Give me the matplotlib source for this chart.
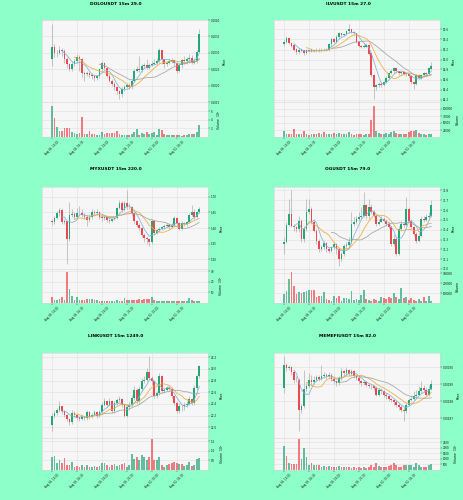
import pandas as pd
import matplotlib
matplotlib.use("Agg")
import matplotlib.pyplot as plt

# -------------------------------
# colours / style
# -------------------------------
BG = "#8dffc8"
AX_BG = "#f6f6f6"
UP = "#22a877"
DOWN = "#ef4650"
WICK = "#a8a8a8"
MA_WINDOWS = [5, 10, 20]
MA_COLORS = ["#7fb2d9", "#f2a93b", "#a3a3a3"]

# 15m candles, 60 per chart
times = pd.date_range("2025-08-09 14:00", periods=60, freq="15min")
xtick_idx = [0, 10, 20, 30, 40, 50]

# -------------------------------
# DOLOUSDT
# -------------------------------
dolo_open0 = 0.10280
dolo_close = [0.10318, 0.10298, 0.10300, 0.10310, 0.10305, 0.10282, 0.10265, 0.10250, 0.10265, 0.10275,
              0.10288, 0.10280, 0.10238, 0.10235, 0.10238, 0.10232, 0.10228, 0.10222, 0.10228, 0.10250,
              0.10268, 0.10253, 0.10230, 0.10215, 0.10205, 0.10195, 0.10183, 0.10173, 0.10190, 0.10195,
              0.10202, 0.10195, 0.10215, 0.10245, 0.10250, 0.10248, 0.10260, 0.10262, 0.10255, 0.10263,
              0.10267, 0.10270, 0.10275, 0.10308, 0.10280, 0.10265, 0.10270, 0.10275, 0.10277, 0.10270,
              0.10245, 0.10262, 0.10278, 0.10275, 0.10280, 0.10285, 0.10270, 0.10275, 0.10303, 0.10357]
dolo_high = [0.10388, 0.10328, 0.10310, 0.10320, 0.10315, 0.10312, 0.10288, 0.10270, 0.10275, 0.10282,
             0.10295, 0.10292, 0.10285, 0.10245, 0.10245, 0.10242, 0.10238, 0.10232, 0.10232, 0.10255,
             0.10275, 0.10272, 0.10258, 0.10235, 0.10220, 0.10210, 0.10200, 0.10188, 0.10195, 0.10202,
             0.10208, 0.10208, 0.10220, 0.10252, 0.10260, 0.10290, 0.10265, 0.10270, 0.10280, 0.10270,
             0.10275, 0.10280, 0.10285, 0.10315, 0.10310, 0.10285, 0.10275, 0.10282, 0.10285, 0.10282,
             0.10275, 0.10268, 0.10282, 0.10290, 0.10288, 0.10295, 0.10292, 0.10285, 0.10310, 0.10372]
dolo_low = [0.10260, 0.10288, 0.10288, 0.10295, 0.10290, 0.10270, 0.10255, 0.10245, 0.10245, 0.10260,
            0.10270, 0.10245, 0.10225, 0.10215, 0.10230, 0.10225, 0.10220, 0.10215, 0.10218, 0.10222,
            0.10245, 0.10248, 0.10225, 0.10210, 0.10198, 0.10188, 0.10175, 0.10160, 0.10165, 0.10185,
            0.10192, 0.10190, 0.10190, 0.10210, 0.10240, 0.10240, 0.10242, 0.10255, 0.10250, 0.10250,
            0.10260, 0.10262, 0.10265, 0.10270, 0.10265, 0.10255, 0.10260, 0.10265, 0.10268, 0.10260,
            0.10238, 0.10240, 0.10255, 0.10265, 0.10265, 0.10270, 0.10265, 0.10265, 0.10270, 0.10300]
dolo_vol = [708000, 438000, 231000, 131000, 131000, 215000, 215000, 215000, 115000, 92000,
            62000, 92000, 462000, 77000, 62000, 138000, 77000, 62000, 38000, 38000,
            115000, 77000, 92000, 92000, 92000, 92000, 138000, 77000, 54000, 54000,
            38000, 38000, 77000, 115000, 192000, 38000, 92000, 62000, 108000, 62000,
            92000, 115000, 38000, 192000, 154000, 77000, 54000, 54000, 54000, 38000,
            54000, 38000, 23000, 38000, 38000, 62000, 77000, 62000, 115000, 269000]
dolo_yticks = [0.1015, 0.1020, 0.1025, 0.1030, 0.1035, 0.1040]
dolo_vticks = [200000, 400000, 600000]
dolo_vlabels = ["2", "4", "6"]

# -------------------------------
# ILVUSDT
# -------------------------------
ilv_open0 = 15.30
ilv_close = [15.35, 15.42, 15.32, 15.28, 15.20, 15.14, 15.19, 15.18, 15.13, 15.18,
             15.16, 15.19, 15.17, 15.20, 15.17, 15.20, 15.18, 15.20, 15.30, 15.40,
             15.35, 15.45, 15.52, 15.48, 15.50, 15.56, 15.60, 15.55, 15.52, 15.35,
             15.27, 15.25, 15.26, 15.29, 15.12, 14.69, 14.45, 14.49, 14.52, 14.50,
             14.55, 14.64, 14.73, 14.77, 14.82, 14.77, 14.73, 14.75, 14.72, 14.71,
             14.67, 14.55, 14.51, 14.69, 14.64, 14.69, 14.73, 14.71, 14.82, 14.87]
ilv_high = [15.38, 15.46, 15.43, 15.34, 15.30, 15.22, 15.22, 15.22, 15.20, 15.21,
            15.20, 15.22, 15.21, 15.22, 15.22, 15.22, 15.22, 15.22, 15.32, 15.44,
            15.42, 15.48, 15.55, 15.54, 15.53, 15.58, 15.71, 15.62, 15.57, 15.53,
            15.37, 15.29, 15.30, 15.32, 15.31, 15.15, 14.72, 14.52, 14.56, 14.55,
            14.57, 14.67, 14.76, 14.80, 14.85, 14.84, 14.78, 14.78, 14.77, 14.74,
            14.73, 14.68, 14.56, 14.72, 14.71, 14.71, 14.75, 14.75, 14.84, 14.95]
ilv_low = [15.27, 15.33, 15.30, 15.25, 15.17, 15.11, 15.12, 15.15, 15.10, 15.11,
           15.14, 15.14, 15.15, 15.15, 15.15, 15.15, 15.16, 15.16, 15.18, 15.28,
           15.33, 15.33, 15.43, 15.45, 15.46, 15.48, 15.54, 15.52, 15.49, 15.33,
           15.25, 15.22, 15.22, 15.24, 15.10, 14.65, 14.22, 14.40, 14.46, 14.46,
           14.47, 14.53, 14.62, 14.71, 14.74, 14.74, 14.70, 14.70, 14.69, 14.68,
           14.64, 14.52, 14.42, 14.49, 14.61, 14.62, 14.66, 14.68, 14.69, 14.79]
ilv_vol = [21400, 11900, 11900, 11900, 28600, 11900, 11900, 11900, 21400, 9500,
           6000, 9500, 11900, 11900, 14300, 9500, 17900, 9500, 11900, 11900,
           15500, 11900, 15500, 11900, 9500, 11900, 17900, 9500, 6000, 11900,
           9500, 9500, 6000, 9500, 11900, 59500, 109500, 21400, 14300, 11900,
           9500, 14300, 11900, 17900, 21400, 14300, 11900, 11900, 11900, 9500,
           17900, 21400, 21400, 26200, 14300, 11900, 9500, 6000, 11900, 11900]
ilv_yticks = [14.2, 14.4, 14.6, 14.8, 15.0, 15.2, 15.4, 15.6]
ilv_vticks = [25000, 50000, 75000, 100000]
ilv_vlabels = ["25000", "50000", "75000", "100000"]

# -------------------------------
# MYXUSDT
# -------------------------------
myx_open0 = 1.621
myx_close = [1.618, 1.632, 1.647, 1.658, 1.619, 1.621, 1.563, 1.642, 1.644, 1.634,
             1.647, 1.647, 1.642, 1.637, 1.626, 1.637, 1.653, 1.647, 1.653, 1.637,
             1.632, 1.634, 1.626, 1.623, 1.629, 1.632, 1.663, 1.682, 1.658, 1.679,
             1.668, 1.668, 1.647, 1.621, 1.611, 1.600, 1.579, 1.568, 1.563, 1.556,
             1.621, 1.584, 1.592, 1.597, 1.602, 1.607, 1.611, 1.603, 1.611, 1.632,
             1.616, 1.598, 1.616, 1.613, 1.619, 1.642, 1.653, 1.637, 1.651, 1.661]
myx_high = [1.628, 1.640, 1.655, 1.665, 1.662, 1.630, 1.626, 1.684, 1.660, 1.652,
            1.665, 1.670, 1.660, 1.648, 1.642, 1.645, 1.660, 1.658, 1.660, 1.656,
            1.642, 1.640, 1.638, 1.630, 1.633, 1.637, 1.668, 1.690, 1.686, 1.688,
            1.721, 1.680, 1.672, 1.650, 1.626, 1.615, 1.604, 1.585, 1.575, 1.568,
            1.628, 1.625, 1.597, 1.602, 1.606, 1.612, 1.616, 1.615, 1.615, 1.640,
            1.635, 1.620, 1.622, 1.620, 1.624, 1.648, 1.675, 1.660, 1.656, 1.668]
myx_low = [1.610, 1.612, 1.628, 1.640, 1.612, 1.614, 1.484, 1.558, 1.636, 1.628,
           1.630, 1.640, 1.636, 1.630, 1.605, 1.620, 1.630, 1.640, 1.642, 1.630,
           1.622, 1.626, 1.618, 1.616, 1.620, 1.625, 1.628, 1.660, 1.652, 1.655,
           1.660, 1.660, 1.640, 1.612, 1.602, 1.590, 1.570, 1.555, 1.550, 1.542,
           1.550, 1.578, 1.580, 1.588, 1.592, 1.598, 1.602, 1.598, 1.600, 1.605,
           1.610, 1.592, 1.594, 1.606, 1.608, 1.615, 1.638, 1.630, 1.632, 1.648]
myx_vol = [610000, 320000, 320000, 420000, 550000, 320000, 2900000, 1290000, 650000, 320000,
           550000, 320000, 290000, 320000, 350000, 420000, 350000, 320000, 260000, 230000,
           160000, 160000, 160000, 230000, 160000, 230000, 320000, 160000, 160000, 480000,
           320000, 320000, 320000, 320000, 320000, 350000, 320000, 390000, 420000, 350000,
           520000, 320000, 230000, 230000, 160000, 160000, 160000, 160000, 160000, 160000,
           160000, 190000, 190000, 160000, 230000, 480000, 320000, 230000, 160000, 190000]
myx_yticks = [1.50, 1.55, 1.60, 1.65, 1.70]
myx_vticks = [1000000, 2000000, 3000000]
myx_vlabels = ["10", "20", "30"]

# -------------------------------
# OGUSDT
# -------------------------------
og_open0 = 31.254
og_close = [31.278, 31.448, 31.561, 31.442, 31.425, 31.408, 31.493, 31.305, 31.408, 31.578,
            31.612, 31.483, 31.390, 31.288, 31.203, 31.220, 31.264, 31.203, 31.186, 31.220,
            31.254, 31.203, 31.100, 31.152, 31.237, 31.244, 31.271, 31.459, 31.476, 31.510,
            31.527, 31.544, 31.646, 31.544, 31.629, 31.578, 31.544, 31.459, 31.483, 31.510,
            31.493, 31.459, 31.425, 31.254, 31.305, 31.152, 31.408, 31.459, 31.448, 31.612,
            31.493, 31.425, 31.356, 31.288, 31.339, 31.510, 31.503, 31.527, 31.544, 31.646]
og_high = [31.322, 31.476, 31.715, 31.800, 31.459, 31.442, 31.544, 31.510, 31.442, 31.715,
           31.715, 31.629, 31.510, 31.408, 31.305, 31.244, 31.288, 31.278, 31.220, 31.237,
           31.271, 31.264, 31.220, 31.169, 31.254, 31.271, 31.322, 31.578, 31.527, 31.544,
           31.578, 31.629, 31.783, 31.663, 31.715, 31.663, 31.595, 31.561, 31.510, 31.544,
           31.527, 31.510, 31.476, 31.442, 31.356, 31.322, 31.442, 31.493, 31.476, 31.732,
           31.629, 31.510, 31.442, 31.373, 31.373, 31.544, 31.544, 31.561, 31.578, 31.698]
og_low = [31.152, 31.264, 31.435, 31.425, 31.390, 31.373, 31.373, 31.278, 31.271, 31.390,
          31.561, 31.459, 31.373, 31.254, 31.175, 31.186, 31.203, 31.175, 31.162, 31.175,
          31.203, 31.152, 31.032, 31.083, 31.135, 31.203, 31.220, 31.254, 31.442, 31.459,
          31.493, 31.510, 31.527, 31.510, 31.510, 31.561, 31.527, 31.442, 31.448, 31.476,
          31.476, 31.442, 31.408, 31.237, 31.237, 31.135, 31.141, 31.390, 31.425, 31.442,
          31.476, 31.408, 31.339, 31.264, 31.278, 31.322, 31.483, 31.493, 31.510, 31.527]
og_vol = [93000, 121000, 241000, 310000, 172000, 93000, 110000, 103000, 114000, 121000,
          128000, 134000, 134000, 59000, 69000, 72000, 114000, 45000, 31000, 17000,
          69000, 52000, 69000, 24000, 52000, 52000, 45000, 121000, 34000, 45000,
          34000, 79000, 128000, 41000, 34000, 24000, 41000, 34000, 17000, 59000,
          52000, 41000, 59000, 52000, 100000, 59000, 45000, 148000, 52000, 59000,
          34000, 52000, 34000, 24000, 41000, 17000, 59000, 24000, 66000, 24000]
og_yticks = [31.0, 31.1, 31.2, 31.3, 31.4, 31.5, 31.6, 31.7, 31.8]
og_vticks = [100000, 200000, 300000]
og_vlabels = ["100000", "200000", "300000"]

# -------------------------------
# LINKUSDT
# -------------------------------
link_open0 = 22.046
link_close = [22.200, 22.246, 22.291, 22.360, 22.274, 22.217, 22.143, 22.086, 22.246, 22.217,
              22.160, 22.143, 22.177, 22.160, 22.257, 22.177, 22.217, 22.257, 22.200, 22.257,
              22.389, 22.446, 22.389, 22.446, 22.274, 22.417, 22.463, 22.486, 22.389, 22.200,
              22.349, 22.389, 22.503, 22.646, 22.446, 22.657, 22.789, 22.817, 22.943, 22.846,
              22.789, 22.531, 22.589, 22.874, 22.617, 22.646, 22.674, 22.657, 22.531, 22.417,
              22.274, 22.371, 22.360, 22.389, 22.406, 22.486, 22.417, 22.674, 22.874, 23.057]
link_high = [22.246, 22.291, 22.331, 22.446, 22.371, 22.303, 22.234, 22.160, 22.303, 22.274,
             22.246, 22.189, 22.217, 22.200, 22.303, 22.274, 22.246, 22.303, 22.274, 22.291,
             22.429, 22.503, 22.474, 22.503, 22.474, 22.446, 22.503, 22.531, 22.503, 22.417,
             22.389, 22.429, 22.560, 22.703, 22.674, 22.703, 22.846, 22.874, 23.017, 23.217,
             22.874, 22.817, 22.617, 22.931, 22.903, 22.674, 22.714, 22.691, 22.691, 22.560,
             22.446, 22.417, 22.406, 22.429, 22.446, 22.531, 22.503, 22.731, 22.903, 23.074]
link_low = [21.931, 22.160, 22.217, 22.257, 22.234, 22.177, 22.103, 22.046, 22.063, 22.177,
            22.120, 22.103, 22.120, 22.131, 22.131, 22.143, 22.160, 22.189, 22.160, 22.177,
            22.234, 22.360, 22.349, 22.360, 22.246, 22.246, 22.389, 22.429, 22.349, 22.177,
            22.177, 22.303, 22.360, 22.474, 22.406, 22.406, 22.617, 22.760, 22.789, 22.817,
            22.731, 22.503, 22.503, 22.560, 22.589, 22.589, 22.617, 22.617, 22.503, 22.389,
            22.246, 22.246, 22.274, 22.303, 22.349, 22.389, 22.389, 22.389, 22.646, 22.846]
link_vol = [70200, 73700, 35100, 52600, 38600, 61400, 26300, 26300, 40300, 17500,
            21000, 17500, 26300, 17500, 26300, 14000, 17500, 21000, 14000, 21000,
            35100, 35100, 26300, 17500, 26300, 31600, 21000, 26300, 31600, 35100,
            17500, 26300, 84200, 56100, 70200, 52600, 78900, 70200, 52600, 70200,
            161400, 52600, 52600, 66700, 26300, 17500, 26300, 31600, 35100, 43900,
            38600, 29800, 31600, 21000, 26300, 42100, 21000, 26300, 56100, 64900]
link_yticks = [22.0, 22.2, 22.4, 22.6, 22.8, 23.0, 23.2]
link_vticks = [50000, 100000, 150000]
link_vlabels = ["0.5", "1.0", "1.5"]

# -------------------------------
# MEMEFIUSDT
# -------------------------------
memefi_open0 = 0.0018878
memefi_close = [0.0019016, 0.0018996, 0.0019002, 0.0018971, 0.0018927, 0.0018924, 0.0018751, 0.0018771, 0.0018873, 0.0018888,
                0.0018927, 0.0018912, 0.0018927, 0.0018941, 0.0018931, 0.0018947, 0.0018957, 0.0018947, 0.0018957, 0.0018931,
                0.0018918, 0.0018908, 0.0018937, 0.0018976, 0.0018967, 0.0018982, 0.0018963, 0.0018976, 0.0018951, 0.0018937,
                0.0018918, 0.0018908, 0.0018912, 0.0018898, 0.0018892, 0.0018888, 0.0018878, 0.0018839, 0.0018869, 0.0018859,
                0.0018839, 0.0018829, 0.0018814, 0.0018806, 0.0018794, 0.0018780, 0.0018767, 0.0018751, 0.0018745, 0.0018780,
                0.0018810, 0.0018814, 0.0018829, 0.0018839, 0.0018859, 0.0018878, 0.0018869, 0.0018839, 0.0018873, 0.0018904]
memefi_high = [0.0019069, 0.0019025, 0.0019016, 0.0019010, 0.0018982, 0.0018947, 0.0018937, 0.0018786, 0.0018986, 0.0018908,
               0.0018967, 0.0018957, 0.0018947, 0.0018957, 0.0018957, 0.0019016, 0.0018971, 0.0018967, 0.0018971, 0.0018967,
               0.0018947, 0.0018927, 0.0018947, 0.0018996, 0.0018986, 0.0019002, 0.0018990, 0.0018990, 0.0018986, 0.0018957,
               0.0018947, 0.0018927, 0.0018927, 0.0018918, 0.0018908, 0.0018904, 0.0018898, 0.0018888, 0.0018884, 0.0018878,
               0.0018869, 0.0018849, 0.0018839, 0.0018820, 0.0018814, 0.0018806, 0.0018790, 0.0018780, 0.0018767, 0.0018794,
               0.0018820, 0.0018839, 0.0018859, 0.0018869, 0.0018888, 0.0018918, 0.0018898, 0.0018878, 0.0018898, 0.0018927]
memefi_low = [0.0018849, 0.0018976, 0.0018986, 0.0018957, 0.0018908, 0.0018912, 0.0018624, 0.0018731, 0.0018761, 0.0018859,
              0.0018878, 0.0018898, 0.0018904, 0.0018918, 0.0018918, 0.0018924, 0.0018937, 0.0018931, 0.0018937, 0.0018918,
              0.0018904, 0.0018892, 0.0018898, 0.0018927, 0.0018951, 0.0018957, 0.0018947, 0.0018951, 0.0018937, 0.0018927,
              0.0018904, 0.0018892, 0.0018898, 0.0018884, 0.0018878, 0.0018873, 0.0018865, 0.0018829, 0.0018833, 0.0018845,
              0.0018826, 0.0018814, 0.0018800, 0.0018794, 0.0018780, 0.0018767, 0.0018751, 0.0018735, 0.0018682, 0.0018731,
              0.0018771, 0.0018800, 0.0018806, 0.0018820, 0.0018829, 0.0018849, 0.0018853, 0.0018829, 0.0018829, 0.0018865]
memefi_vol = [2.18e8, 1.30e8, 6.06e7, 5.45e7, 5.45e7, 5.45e7, 2.79e8, 9.70e7, 1.97e8, 1.15e8,
              4.55e7, 6.67e7, 4.55e7, 4.55e7, 4.55e7, 3.00e7, 3.64e7, 3.00e7, 3.64e7, 3.00e7,
              3.00e7, 2.42e7, 3.64e7, 3.00e7, 3.00e7, 2.42e7, 3.00e7, 2.12e7, 2.42e7, 2.12e7,
              2.42e7, 2.12e7, 2.42e7, 2.12e7, 3.00e7, 4.55e7, 3.00e7, 6.67e7, 3.64e7, 3.00e7,
              2.42e7, 3.00e7, 3.64e7, 4.55e7, 6.06e7, 4.55e7, 2.42e7, 3.00e7, 4.55e7, 4.55e7,
              4.55e7, 4.55e7, 3.00e7, 6.67e7, 4.55e7, 3.00e7, 3.00e7, 3.00e7, 4.24e7, 5.45e7]
memefi_yticks = [0.00187, 0.00188, 0.00189, 0.00190]
memefi_vticks = [5e7, 1e8, 1.5e8, 2e8, 2.5e8]
memefi_vlabels = ["500", "1000", "1500", "2000", "2500"]

panels = [
    dict(title="DOLOUSDT 15m 29.0", open0=dolo_open0, close=dolo_close, high=dolo_high, low=dolo_low,
         vol=dolo_vol, yticks=dolo_yticks, yfmt="%.4f", ylim=(0.1015, 0.1040),
         vticks=dolo_vticks, vlabels=dolo_vlabels, vtop=8.1e5, vname="Volume  $10^{5}$"),
    dict(title="ILVUSDT 15m 27.0", open0=ilv_open0, close=ilv_close, high=ilv_high, low=ilv_low,
         vol=ilv_vol, yticks=ilv_yticks, yfmt="%.1f", ylim=(14.15, 15.79),
         vticks=ilv_vticks, vlabels=ilv_vlabels, vtop=1.25e5, vname="Volume"),
    dict(title="MYXUSDT 15m 220.0", open0=myx_open0, close=myx_close, high=myx_high, low=myx_low,
         vol=myx_vol, yticks=myx_yticks, yfmt="%.2f", ylim=(1.468, 1.732),
         vticks=myx_vticks, vlabels=myx_vlabels, vtop=3.2e6, vname="Volume  $10^{5}$"),
    dict(title="OGUSDT 15m 79.0", open0=og_open0, close=og_close, high=og_high, low=og_low,
         vol=og_vol, yticks=og_yticks, yfmt="%.1f", ylim=(31.0, 31.834),
         vticks=og_vticks, vlabels=og_vlabels, vtop=3.45e5, vname="Volume"),
    dict(title="LINKUSDT 15m 1249.0", open0=link_open0, close=link_close, high=link_high, low=link_low,
         vol=link_vol, yticks=link_yticks, yfmt="%.1f", ylim=(21.817, 23.274),
         vticks=link_vticks, vlabels=link_vlabels, vtop=1.666e5, vname="Volume  $10^{5}$"),
    dict(title="MEMEFIUSDT 15m 82.0", open0=memefi_open0, close=memefi_close, high=memefi_high, low=memefi_low,
         vol=memefi_vol, yticks=memefi_yticks, yfmt="%.5f", ylim=(0.0018585, 0.0019084),
         vticks=memefi_vticks, vlabels=memefi_vlabels, vtop=2.88e8, vname="Volume  $10^{5}$"),
]

# layout in pixels: left edge of each column, and per row (price top, price bottom, volume bottom, title y)
W, H = 464, 500
col_left = [42, 274]
ax_w = 166
rows = [(20, 102, 137, 4), (187, 269, 303, 169), (353, 438, 470, 336)]

fig = plt.figure(figsize=(W / 100, H / 100), dpi=100, facecolor=BG)

for k, p in enumerate(panels):
    r, c = divmod(k, 2)
    top, mid, bot, ty = rows[r]
    left = col_left[c]
    axp = fig.add_axes([left / W, 1 - mid / H, ax_w / W, (mid - top) / H])
    axv = fig.add_axes([left / W, 1 - bot / H, ax_w / W, (bot - mid) / H], sharex=axp)

    close = pd.Series(p["close"])
    opn = pd.Series([p["open0"]] + p["close"][:-1])
    x = list(range(len(close)))
    colors = [UP if cl >= op else DOWN for cl, op in zip(close, opn)]

    # candles
    span = p["ylim"][1] - p["ylim"][0]
    body_lo = pd.concat([opn, close], axis=1).min(axis=1)
    body_h = (close - opn).abs().clip(lower=span * 0.004)
    axp.vlines(x, p["low"], p["high"], color=WICK, lw=0.45, zorder=2)
    axp.bar(x, body_h, bottom=body_lo, width=0.7, color=colors, zorder=3)

    # moving averages
    for w, col in zip(MA_WINDOWS, MA_COLORS):
        axp.plot(x, close.rolling(w).mean(), color=col, lw=0.55, zorder=4)

    # volume
    axv.bar(x, p["vol"], width=0.7, color=colors, alpha=0.7, zorder=3)

    for ax in (axp, axv):
        ax.set_facecolor(AX_BG)
        ax.yaxis.tick_right()
        ax.yaxis.set_label_position("right")
        ax.grid(True, color="#e0e0e0", lw=0.4)
        ax.set_axisbelow(True)
        ax.tick_params(labelsize=2.0, length=1.2, width=0.3, pad=1, colors="#1a1a1a")
        for s in ax.spines.values():
            s.set_color("#d4d4d4")
            s.set_linewidth(0.4)

    axp.set_xlim(-4, 62.5)
    axp.set_ylim(*p["ylim"])
    axp.set_yticks(p["yticks"], [p["yfmt"] % t for t in p["yticks"]])
    axp.set_ylabel("Price", fontsize=2.2, labelpad=2)
    axp.tick_params(labelbottom=False)

    axv.set_ylim(0, p["vtop"])
    axv.set_yticks(p["vticks"], p["vlabels"])
    axv.set_ylabel(p["vname"], fontsize=2.2, labelpad=2)
    axv.set_xticks(xtick_idx, [times[i].strftime("%b %d, %H:%M") for i in xtick_idx])
    axv.tick_params(axis="x", labelsize=1.9, rotation=45)

    fig.text((c * 232 + 116) / W, 1 - ty / H, p["title"], ha="center", va="center",
             fontsize=3.2, fontweight="bold")

plt.savefig("out.png", dpi=100, facecolor=BG)
